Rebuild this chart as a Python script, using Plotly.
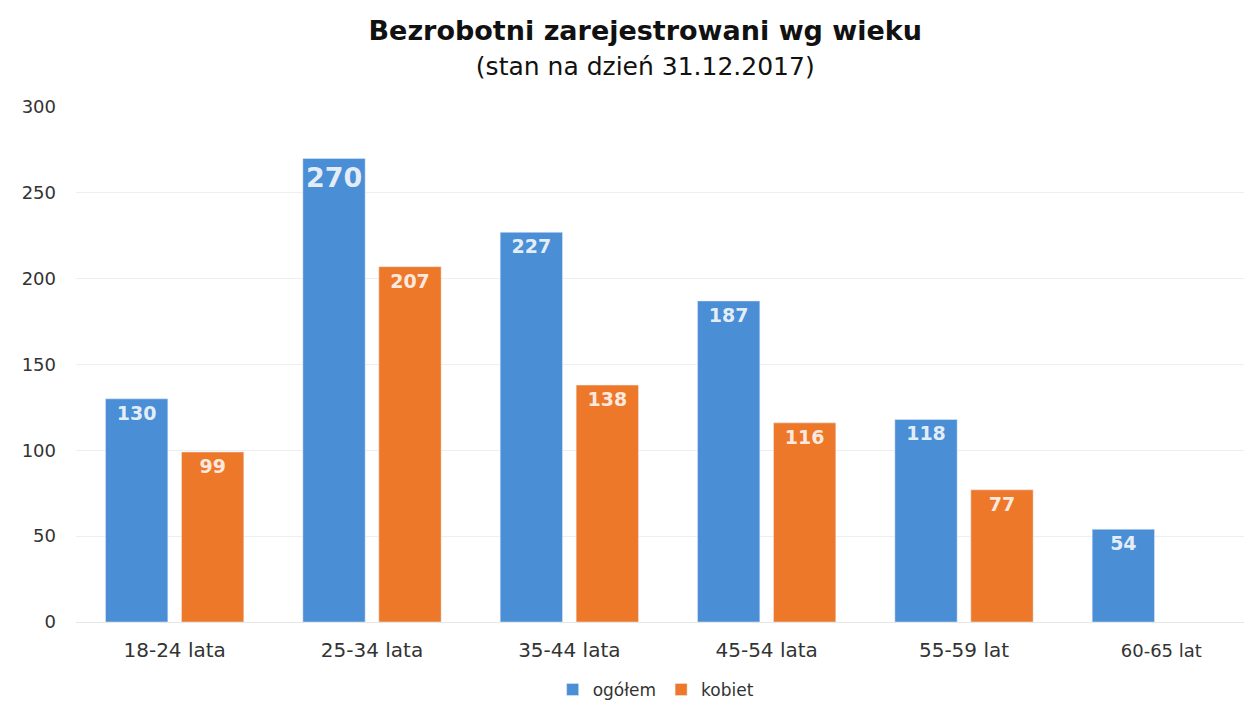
import plotly.graph_objects as go

categories = ['18-24 lata', '25-34 lata', '35-44 lata', '45-54 lata', '55-59 lat', '60-65 lat']
ogolem = [130, 270, 227, 187, 118, 54]
kobiet = [99, 207, 138, 116, 77, None]
y_ticks = [0, 50, 100, 150, 200, 250, 300]

tick_text = categories[:-1] + ["<span style='font-size:18px'>" + categories[-1] + "</span>"]

fig = go.Figure()

fig.add_trace(go.Bar(
    x=categories, y=ogolem,
    name='ogółem',
    marker=dict(color='#4A8ED6'),
    text=ogolem,
    textposition='inside',
    insidetextanchor='end',
    textangle=0,
    textfont=dict(family='DejaVu Sans', color='rgba(255,255,255,0.85)',
                  size=[19, 28, 19, 19, 19, 19], weight='bold'),
))

fig.add_trace(go.Bar(
    x=categories, y=kobiet,
    name='kobiet',
    marker=dict(color='#EE782A'),
    text=kobiet,
    textposition='inside',
    insidetextanchor='end',
    textangle=0,
    textfont=dict(family='DejaVu Sans', color='rgba(255,255,255,0.85)', size=19, weight='bold'),
))

fig.update_layout(
    width=1252, height=702,
    paper_bgcolor='white', plot_bgcolor='white',
    barmode='group', bargap=0.23, bargroupgap=0.18,
    font=dict(family='DejaVu Sans', color='#404040', size=17),
    title=dict(
        text='<b>Bezrobotni zarejestrowani wg wieku</b><br>'
             "<span style='font-size:25px'>(stan na dzień 31.12.2017)</span>",
        x=0.509, xanchor='center', yref='container', y=0.955, yanchor='middle',
        font=dict(family='DejaVu Sans', size=27, color='#111111'),
    ),
    xaxis=dict(
        tickvals=categories, ticktext=tick_text,
        showgrid=False, showline=True, linecolor='#e6e6e6', linewidth=1,
        ticklabelstandoff=10,
        tickfont=dict(size=20, color='#333333'),
    ),
    yaxis=dict(
        range=[0, 300], tickvals=y_ticks,
        showgrid=True, gridcolor='#eeeeee', gridwidth=1,
        zeroline=False, ticks='', ticklabelstandoff=19,
        tickfont=dict(size=18, color='#333333'),
    ),
    showlegend=True,
    legend=dict(orientation='h', x=0.49, xanchor='center', y=-0.132, yanchor='middle',
                font=dict(size=17, color='#333333')),
    margin=dict(l=68, r=0, t=99, b=88),
)

fig.write_html("out.html")
